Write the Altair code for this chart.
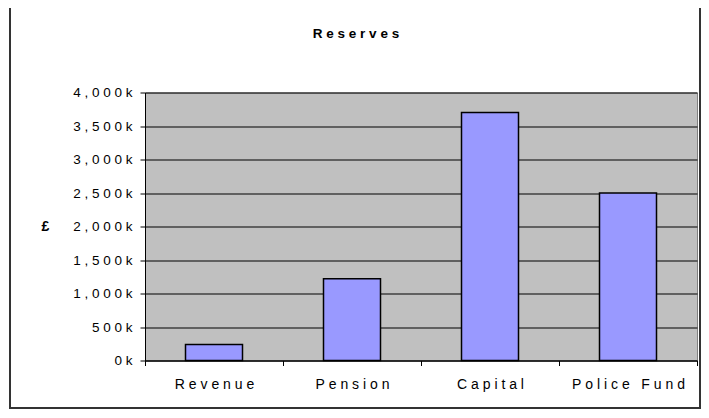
import altair as alt
import pandas as pd

categories = ["Revenue", "Pension", "Capital", "Police Fund"]
values_k = [240, 1220, 3700, 2500]
y_ticks = [0, 500, 1000, 1500, 2000, 2500, 3000, 3500, 4000]
title_text = "Reserves"
y_title = "£"

df = pd.DataFrame({"category": categories, "value": values_k})

W, H = 552, 268
FONT = "Liberation Sans"
NB = "\u00a0"
spaced = lambda s: NB.join(list(s))

x_label_expr = "join(split(datum.label, ''), '" + NB + "')"
y_label_expr = "join(split(format(datum.value, ',') + 'k', ''), '" + NB + "')"

base = alt.Chart(df)

bars = base.mark_bar(color="#9999FF", stroke="#000000", strokeWidth=1.5, size=57).encode(
    x=alt.X("category:N", sort=categories,
            scale=alt.Scale(paddingInner=0, paddingOuter=0),
            axis=alt.Axis(title=None, labelAngle=0, tickBand="extent", tickSize=5,
                          labelPadding=12, labelFontSize=14, labelFont=FONT,
                          labelColor="#000000", domainColor="#000000", tickColor="#000000",
                          labelExpr=x_label_expr)),
    y=alt.Y("value:Q", scale=alt.Scale(domain=[0, 4000], nice=False),
            axis=alt.Axis(values=y_ticks, grid=True, gridColor="#000000", gridWidth=1,
                          tickSize=5, labelPadding=8, labelFontSize=13.5, labelFont=FONT,
                          labelColor="#000000", domainColor="#000000", tickColor="#000000",
                          labelExpr=y_label_expr,
                          title=y_title, titleAngle=0, titleFont=FONT, titleFontSize=14,
                          titleFontWeight="bold", titleX=-100, titleY=134, titleAlign="center",
                          titleBaseline="middle")),
)

title_df = pd.DataFrame({"t": [spaced(title_text)]})
title = alt.Chart(title_df).mark_text(font=FONT, fontSize=13.5, fontWeight="bold",
                                       align="center", baseline="middle", color="#000000").encode(
    text="t:N", x=alt.value(211), y=alt.value(-59)
)

border = alt.Chart(title_df).mark_rect(fill=None, stroke="#333333", strokeWidth=2).encode(
    x=alt.value(-135), x2=alt.value(555), y=alt.value(-87), y2=alt.value(315.5)
)

chart = alt.layer(border, bars, title).properties(
    width=W, height=H,
    autosize=alt.AutoSizeParams(type="none"),
    padding={"left": 137, "top": 84.5, "right": 4, "bottom": 49.5},
).configure_view(fill="#C0C0C0", stroke="#808080", strokeWidth=1)

chart.save("out.html", embed_options={"renderer": "svg", "actions": False})
